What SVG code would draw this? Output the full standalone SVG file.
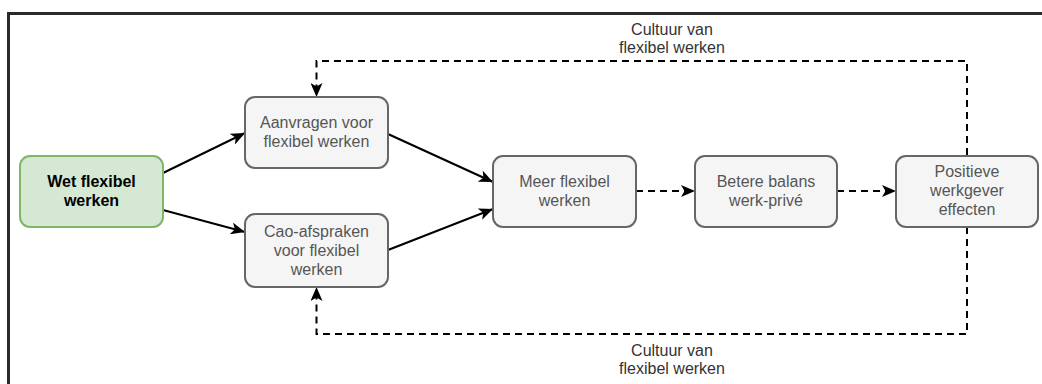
<svg xmlns="http://www.w3.org/2000/svg" width="1042" height="384" viewBox="0 0 1042 384">
<defs>
<style>
text{font-family:"Liberation Sans",Arial,Helvetica,sans-serif;font-size:16px;text-anchor:middle}
.box{fill:#f5f5f5;stroke:#666666;stroke-width:2}
.boxt{fill:#555555}
.start{fill:#d5e8d4;stroke:#82b366;stroke-width:2}
.startt{fill:#000;font-weight:bold}
.edge{fill:none;stroke:#000;stroke-width:2}
.dash{stroke-dasharray:7 5}
.lbl{fill:#333}
</style>
<marker id="arr" markerUnits="userSpaceOnUse" viewBox="0 0 14 12" refX="14" refY="6" markerWidth="14" markerHeight="12" orient="auto">
<path d="M0,0 L14,6 L0,12 L3.5,6 Z" fill="#000"/>
</marker>
</defs>
<rect x="0" y="0" width="1042" height="384" fill="#fff"/>
<rect id="frame" x="8.5" y="13.5" width="1100" height="400" fill="none" stroke="#2a2a2a" stroke-width="3"/>
<g id="connectors">
<path class="edge" d="M163,173 L245,133" marker-end="url(#arr)"/>
<path class="edge" d="M163,210 L245,232" marker-end="url(#arr)"/>
<path class="edge" d="M388,134 L493,182" marker-end="url(#arr)"/>
<path class="edge" d="M388,250 L493,209" marker-end="url(#arr)"/>
<path class="edge dash" d="M636,191 L695,191" marker-end="url(#arr)"/>
<path class="edge dash" d="M837,191 L896,191" marker-end="url(#arr)"/>
<path class="edge dash" d="M967,155 V61 H316.5 V97" marker-end="url(#arr)"/>
<path class="edge dash" d="M967,227 V334 H316.5 V287" marker-end="url(#arr)"/>
<text class="lbl" x="672" y="35">Cultuur van</text>
<text class="lbl" x="672" y="53">flexibel werken</text>
<text class="lbl" x="672" y="356">Cultuur van</text>
<text class="lbl" x="672" y="374">flexibel werken</text>
</g>
<g id="wet">
<rect class="start" x="20" y="156" width="143" height="71" rx="10"/>
<text class="startt" x="91.5" y="187">Wet flexibel</text>
<text class="startt" x="91.5" y="206">werken</text>
</g>
<g id="aanvragen">
<rect class="box" x="245" y="97" width="143" height="71" rx="10"/>
<text class="boxt" x="316.5" y="128">Aanvragen voor</text>
<text class="boxt" x="316.5" y="147">flexibel werken</text>
</g>
<g id="cao">
<rect class="box" x="245" y="214" width="143" height="73" rx="10"/>
<text class="boxt" x="316.5" y="237">Cao-afspraken</text>
<text class="boxt" x="316.5" y="256">voor flexibel</text>
<text class="boxt" x="316.5" y="275">werken</text>
</g>
<g id="meer">
<rect class="box" x="493" y="156" width="143" height="71" rx="10"/>
<text class="boxt" x="564.5" y="187">Meer flexibel</text>
<text class="boxt" x="564.5" y="206">werken</text>
</g>
<g id="betere">
<rect class="box" x="695" y="156" width="142" height="71" rx="10"/>
<text class="boxt" x="766" y="187">Betere balans</text>
<text class="boxt" x="766" y="206">werk-privé</text>
</g>
<g id="positieve">
<rect class="box" x="896" y="156" width="142" height="71" rx="10"/>
<text class="boxt" x="967" y="177">Positieve</text>
<text class="boxt" x="967" y="196">werkgever</text>
<text class="boxt" x="967" y="215">effecten</text>
</g>
</svg>
